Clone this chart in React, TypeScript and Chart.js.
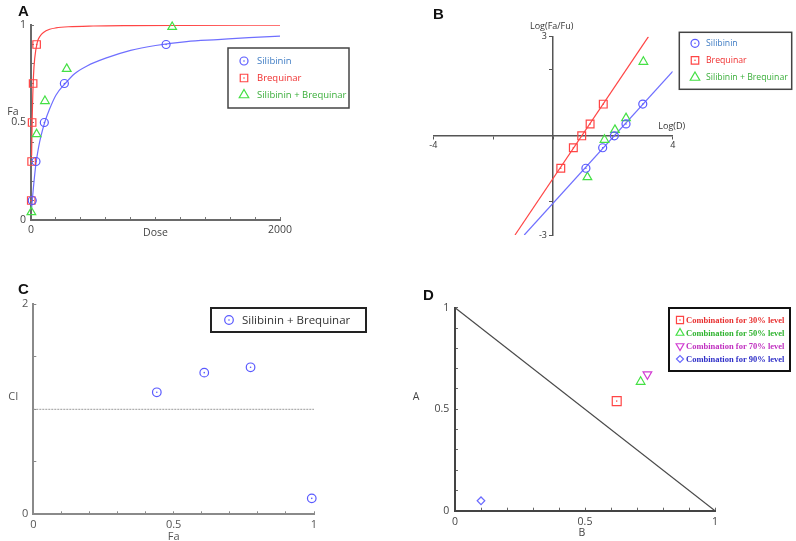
import React, { useEffect, useRef } from 'react';
import { Chart, registerables } from 'chart.js';
import { drawPoint } from 'chart.js/helpers';

Chart.register(...registerables);

// ---------- Panel A: dose-effect curves ----------
const silibininDoseA = [10, 40, 107, 268, 1085];
const silibininFaA = [0.1, 0.3, 0.5, 0.7, 0.9];
const brequinarDoseA = [2, 5, 9, 17, 45];
const brequinarFaA = [0.1, 0.3, 0.5, 0.7, 0.9];
const comboDoseA = [3, 45, 112, 287, 1134];
const comboFaA = [0.04, 0.44, 0.61, 0.775, 0.99];
const silibininCurveDose = [5, 10, 20, 40, 60, 80, 110, 150, 200, 275, 350, 450, 600, 800, 1000, 1250, 1500, 1750, 2000];
const silibininCurveFa = [0.06, 0.1, 0.17, 0.29, 0.37, 0.43, 0.5, 0.57, 0.64, 0.7, 0.75, 0.79, 0.83, 0.87, 0.895, 0.915, 0.925, 0.935, 0.943];
const brequinarCurveDose = [5, 10, 20, 30, 50, 75, 100, 150, 200, 300, 500, 800, 1200, 2000];
const brequinarCurveFa = [0.33, 0.53, 0.74, 0.83, 0.91, 0.945, 0.962, 0.978, 0.985, 0.991, 0.995, 0.997, 0.998, 0.999];
const aXLabels = [0, 2000];
const aYLabels = [0, 0.5, 1];

// ---------- Panel B: median-effect plot ----------
const silibininLogD = [1.1, 1.66, 2.05, 2.44, 3.0];
const silibininLogFaFu = [-0.98, -0.36, 0, 0.36, 0.96];
const brequinarLogD = [0.26, 0.68, 0.96, 1.24, 1.68];
const brequinarLogFaFu = [-0.98, -0.36, 0, 0.36, 0.96];
const comboLogD = [1.15, 1.72, 2.07, 2.44, 3.02];
const comboLogFaFu = [-1.25, -0.12, 0.18, 0.535, 2.24];
const silibininLineLogD = [-0.96, 4];
const silibininLineY = [-3, 1.95];
const brequinarLineLogD = [-1.27, 3.19];
const brequinarLineY = [-3, 3];
const bTicksX = [-4, -2, 0, 2, 4];
const bTicksY = [-3, -2, 0, 2, 3];
const bXLabels = [-4, 4];
const bYLabels = [-3, 3];

// ---------- Panel C: combination index ----------
const faC = [0.44, 0.609, 0.774, 0.992];
const ciC = [1.162, 1.349, 1.4, 0.152];
const ciRefFa = [0, 1];
const ciRefValue = [1, 1];
const cXLabels = [0, 0.5, 1];
const cYLabels = [0, 2];

// ---------- Panel D: isobologram ----------
const isoLabels = ['Combination for 30% level', 'Combination for 50% level', 'Combination for 70% level', 'Combination for 90% level'];
const isoB = [0.622, 0.714, 0.74, 0.1];
const isoA = [0.54, 0.635, 0.672, 0.049];
const additivityB = [0, 1];
const additivityA = [1, 0];
const dLabels = [0, 0.5, 1];

const SANS = '"Open Sans", "DejaVu Sans", sans-serif';
const SERIF = '"Liberation Serif", "Times New Roman", serif';
const BLUE = '#5a5aff';
const BLUE_LINE = '#6f6fff';
const RED = '#ff4545';
const GREEN = '#44e044';
const MAGENTA = '#d23cd2';

const pts = (xs: number[], ys: number[]) => xs.map((x, i) => ({ x, y: ys[i] }));
const near = (a: number, b: number) => Math.abs(a - b) < 1e-6;
const labelAt = (list: number[], suffix = '') => (v: any) => {
  const n = Number(v);
  return list.some((l) => near(n, l)) ? String(+n.toFixed(2)) + suffix : '';
};

const boxLegendPlugin = {
  id: 'boxLegend',
  afterDraw(chart: any, _args: any, o: any) {
    if (!o || !o.items) return;
    const ctx = chart.ctx;
    ctx.save();
    ctx.fillStyle = '#ffffff';
    ctx.fillRect(o.left, o.top, o.width, o.height);
    ctx.lineWidth = o.borderWidth;
    ctx.strokeStyle = o.borderColor;
    ctx.strokeRect(o.left, o.top, o.width, o.height);
    for (let i = 0; i < o.items.length; i++) {
      const it = o.items[i];
      const y = o.rows[i];
      ctx.strokeStyle = it.color;
      ctx.fillStyle = 'rgba(0,0,0,0)';
      ctx.lineWidth = 1.2;
      drawPoint(ctx, { pointStyle: it.style, radius: it.radius, rotation: it.rotation || 0, borderWidth: 1.2 } as any, o.markerX, y);
      if (it.dot) {
        ctx.beginPath();
        ctx.fillStyle = it.color;
        ctx.arc(o.markerX, y, 0.8, 0, Math.PI * 2);
        ctx.fill();
      }
      ctx.font = o.font;
      ctx.fillStyle = it.textColor;
      ctx.textAlign = 'left';
      ctx.textBaseline = 'middle';
      ctx.fillText(it.text, o.textX, y + 0.5);
    }
    ctx.restore();
  },
};

const axisTitlesPlugin = {
  id: 'axisTitles',
  afterDraw(chart: any, _args: any, o: any) {
    if (!o || !o.items) return;
    const a = chart.chartArea;
    const ctx = chart.ctx;
    ctx.save();
    for (let i = 0; i < o.items.length; i++) {
      const it = o.items[i];
      const bx = it.xAt === 'left' ? a.left : it.xAt === 'right' ? a.right : (a.left + a.right) / 2;
      const by = it.yAt === 'top' ? a.top : it.yAt === 'bottom' ? a.bottom : (a.top + a.bottom) / 2;
      ctx.font = it.font;
      ctx.fillStyle = it.color;
      ctx.textAlign = 'center';
      ctx.textBaseline = 'middle';
      ctx.fillText(it.text, bx + it.dx, by + it.dy);
    }
    ctx.restore();
  },
};

const centerDotPlugin = {
  id: 'centerDot',
  afterDatasetsDraw(chart: any) {
    const ctx = chart.ctx;
    chart.data.datasets.forEach((ds: any, i: number) => {
      if (!ds.centerDot) return;
      const meta = chart.getDatasetMeta(i);
      ctx.save();
      ctx.fillStyle = ds.borderColor;
      meta.data.forEach((el: any) => {
        ctx.beginPath();
        ctx.arc(el.x, el.y, 0.8, 0, Math.PI * 2);
        ctx.fill();
      });
      ctx.restore();
    });
  },
};

const PLUGINS = [boxLegendPlugin, axisTitlesPlugin, centerDotPlugin];

const marker = (label: string, data: any[], style: string, radius: number, color: string, extra: any = {}) => ({
  type: 'scatter',
  label,
  data,
  pointStyle: style,
  pointRadius: radius,
  borderColor: color,
  pointBorderColor: color,
  backgroundColor: 'rgba(0,0,0,0)',
  pointBackgroundColor: 'rgba(0,0,0,0)',
  borderWidth: 1.2,
  pointBorderWidth: 1.2,
  clip: false,
  ...extra,
});

const lineDs = (data: any[], color: string, width: number, extra: any = {}) => ({
  type: 'line',
  data,
  borderColor: color,
  borderWidth: width,
  pointRadius: 0,
  fill: false,
  tension: 0,
  ...extra,
});

const inwardAxis = (o: any) => ({
  type: 'linear',
  min: o.min,
  max: o.max,
  afterFit: o.afterFit,
  grid: { drawOnChartArea: false, drawTicks: true, tickLength: -3, color: o.tickColor, lineWidth: 1 },
  border: { display: true, color: o.axisColor, width: o.axisWidth },
  ticks: {
    stepSize: o.step,
    autoSkip: false,
    maxRotation: 0,
    padding: o.padding,
    font: { family: SANS, size: o.fontSize },
    color: o.labelColor,
    callback: labelAt(o.labels),
  },
});

const makeA = () => ({
  type: 'scatter',
  data: {
    datasets: [
      marker('Silibinin', pts(silibininDoseA, silibininFaA), 'circle', 4, BLUE, { centerDot: true }),
      marker('Brequinar', pts(brequinarDoseA, brequinarFaA), 'rect', 5.3, RED, { centerDot: true }),
      marker('Silibinin + Brequinar', pts(comboDoseA, comboFaA), 'triangle', 5, GREEN),
      lineDs(pts(silibininCurveDose, silibininCurveFa), BLUE_LINE, 1.2, { cubicInterpolationMode: 'monotone' }),
      lineDs(pts(brequinarCurveDose, brequinarCurveFa), RED, 1.2, { cubicInterpolationMode: 'monotone' }),
    ],
  },
  options: {
    responsive: false,
    animation: false,
    devicePixelRatio: 1,
    layout: { padding: { left: 0, top: 25, right: 118, bottom: 12 } },
    plugins: {
      legend: { display: false },
      tooltip: { enabled: false },
      boxLegend: {
        left: 228, top: 48, width: 121, height: 60, borderWidth: 1.5, borderColor: '#444',
        markerX: 244, textX: 257, rows: [61, 78, 95], font: `9.5px ${SANS}`,
        items: [
          { text: 'Silibinin', color: BLUE, textColor: '#3f7cc4', style: 'circle', radius: 4, dot: true },
          { text: 'Brequinar', color: RED, textColor: '#f02e2e', style: 'rect', radius: 5.3, dot: true },
          { text: 'Silibinin + Brequinar', color: GREEN, textColor: '#3aae3a', style: 'triangle', radius: 5.5 },
        ],
      },
      axisTitles: {
        items: [
          { text: 'Fa', xAt: 'left', yAt: 'middle', dx: -18, dy: -10.5, font: `10.5px ${SANS}`, color: '#444' },
          { text: 'Dose', xAt: 'center', yAt: 'bottom', dx: 0, dy: 13, font: `10.5px ${SANS}`, color: '#444' },
        ],
      },
    },
    scales: {
      x: inwardAxis({ min: 0, max: 2000, step: 200, labels: aXLabels, padding: 6.7, fontSize: 10.5, labelColor: '#444', tickColor: '#777', axisColor: '#6a6a6a', axisWidth: 2, afterFit: (s: any) => { s.height = 20; } }),
      y: inwardAxis({ min: 0, max: 1, step: 0.1, labels: aYLabels, padding: 8, fontSize: 10.5, labelColor: '#444', tickColor: '#777', axisColor: '#6a6a6a', axisWidth: 2, afterFit: (s: any) => { s.width = 31; } }),
    },
  },
  plugins: PLUGINS,
});

const makeB = () => ({
  type: 'scatter',
  data: {
    datasets: [
      marker('Silibinin', pts(silibininLogD, silibininLogFaFu), 'circle', 4, BLUE, { centerDot: true }),
      marker('Brequinar', pts(brequinarLogD, brequinarLogFaFu), 'rect', 5.5, RED, { centerDot: true }),
      marker('Silibinin + Brequinar', pts(comboLogD, comboLogFaFu), 'triangle', 5, GREEN),
      lineDs(pts(silibininLineLogD, silibininLineY), BLUE_LINE, 1.2),
      lineDs(pts(brequinarLineLogD, brequinarLineY), RED, 1.2),
    ],
  },
  options: {
    responsive: false,
    animation: false,
    devicePixelRatio: 1,
    layout: { padding: { left: 33.3, top: 36.7, right: 123.3, bottom: 15 } },
    plugins: {
      legend: { display: false },
      tooltip: { enabled: false },
      boxLegend: {
        left: 279.3, top: 32.3, width: 112.4, height: 57, borderWidth: 1.5, borderColor: '#444',
        markerX: 295, textX: 306, rows: [43.3, 60.3, 77.5], font: `8.7px ${SANS}`,
        items: [
          { text: 'Silibinin', color: BLUE, textColor: '#3f7cc4', style: 'circle', radius: 4, dot: true },
          { text: 'Brequinar', color: RED, textColor: '#f02e2e', style: 'rect', radius: 5.3, dot: true },
          { text: 'Silibinin + Brequinar', color: GREEN, textColor: '#3aae3a', style: 'triangle', radius: 5.5 },
        ],
      },
      axisTitles: {
        items: [
          { text: 'Log(Fa/Fu)', xAt: 'center', yAt: 'top', dx: -1.3, dy: -10, font: `9px ${SANS}`, color: '#333' },
          { text: 'Log(D)', xAt: 'right', yAt: 'middle', dx: -1, dy: -9, font: `9px ${SANS}`, color: '#333' },
        ],
      },
    },
    scales: {
      x: {
        type: 'linear', min: -4, max: 4, position: { y: 0 },
        afterBuildTicks: (s: any) => { s.ticks = bTicksX.map((v) => ({ value: v })); },
        grid: { drawOnChartArea: false, drawTicks: true, tickLength: 3, color: '#555', lineWidth: 1 },
        border: { display: true, color: '#555', width: 1.5 },
        ticks: { autoSkip: false, maxRotation: 0, padding: 1.6, font: { family: SANS, size: 9 }, color: '#333', callback: labelAt(bXLabels) },
      },
      y: {
        type: 'linear', min: -3, max: 3, position: { x: 0 },
        afterBuildTicks: (s: any) => { s.ticks = bTicksY.map((v) => ({ value: v })); },
        grid: { drawOnChartArea: false, drawTicks: true, tickLength: 3, color: '#555', lineWidth: 1 },
        border: { display: true, color: '#555', width: 1.5 },
        ticks: { autoSkip: false, padding: 0, font: { family: SANS, size: 9 }, color: '#333', callback: labelAt(bYLabels, '\u2002\u2009') },
      },
    },
  },
  plugins: PLUGINS,
});

const makeC = () => ({
  type: 'scatter',
  data: {
    datasets: [
      marker('Silibinin + Brequinar', pts(faC, ciC), 'circle', 4.3, BLUE, { centerDot: true }),
      lineDs(pts(ciRefFa, ciRefValue), '#9a9a9a', 1, { borderDash: [2, 1] }),
    ],
  },
  options: {
    responsive: false,
    animation: false,
    devicePixelRatio: 1,
    layout: { padding: { left: 0, top: 39.3, right: 84, bottom: 6.7 } },
    plugins: {
      legend: { display: false },
      tooltip: { enabled: false },
      boxLegend: {
        left: 211, top: 43, width: 155, height: 24, borderWidth: 2, borderColor: '#222',
        markerX: 229, textX: 242, rows: [55], font: `11.5px ${SANS}`,
        items: [{ text: 'Silibinin + Brequinar', color: BLUE, textColor: '#333', style: 'circle', radius: 4.3, dot: true }],
      },
      axisTitles: {
        items: [
          { text: 'CI', xAt: 'left', yAt: 'middle', dx: -20, dy: -12.3, font: `11px ${SANS}`, color: '#555' },
          { text: 'Fa', xAt: 'center', yAt: 'bottom', dx: 0, dy: 22.4, font: `11px ${SANS}`, color: '#555' },
        ],
      },
    },
    scales: {
      x: inwardAxis({ min: 0, max: 1, step: 0.1, labels: cXLabels, padding: 6.8, fontSize: 11, labelColor: '#555', tickColor: '#888', axisColor: '#8a8a8a', axisWidth: 2, afterFit: (s: any) => { s.height = 20; } }),
      y: inwardAxis({ min: 0, max: 2, step: 0.5, labels: cYLabels, padding: 8, fontSize: 11, labelColor: '#555', tickColor: '#888', axisColor: '#8a8a8a', axisWidth: 2, afterFit: (s: any) => { s.width = 33.3; } }),
    },
  },
  plugins: PLUGINS,
});

const isoStyles = [
  { style: 'rect', radius: 6.3, color: RED, rotation: 0, dot: true },
  { style: 'triangle', radius: 5, color: GREEN, rotation: 0, dot: false },
  { style: 'triangle', radius: 5, color: MAGENTA, rotation: 180, dot: false },
  { style: 'rectRot', radius: 3.8, color: '#6a6aff', rotation: 0, dot: false },
];
const isoTextColors = ['#e83030', '#2fb32f', '#c030c0', '#2f2fc8'];

const makeD = () => ({
  type: 'scatter',
  data: {
    datasets: [
      ...isoLabels.map((lab, i) =>
        marker(lab, [{ x: isoB[i], y: isoA[i] }], isoStyles[i].style, isoStyles[i].radius, isoStyles[i].color, {
          pointRotation: isoStyles[i].rotation,
          centerDot: isoStyles[i].dot,
        })
      ),
      lineDs(pts(additivityB, additivityA), '#4a4a4a', 1.3),
    ],
  },
  options: {
    responsive: false,
    animation: false,
    devicePixelRatio: 1,
    layout: { padding: { left: 20, top: 42.7, right: 81, bottom: 10.3 } },
    plugins: {
      legend: { display: false },
      tooltip: { enabled: false },
      boxLegend: {
        left: 271, top: 43, width: 121, height: 63, borderWidth: 2, borderColor: '#111',
        markerX: 282, textX: 288, rows: [55, 68, 81, 94], font: `bold 8.5px ${SERIF}`,
        items: isoLabels.map((lab, i) => ({
          text: lab, color: isoStyles[i].color, textColor: isoTextColors[i], style: isoStyles[i].style,
          radius: isoStyles[i].style === 'rect' ? 5 : isoStyles[i].style === 'rectRot' ? 3.5 : 4.5,
          rotation: isoStyles[i].rotation, dot: isoStyles[i].dot,
        })),
      },
      axisTitles: {
        items: [
          { text: 'A', xAt: 'left', yAt: 'middle', dx: -39, dy: -12, font: `10.5px ${SANS}`, color: '#444' },
          { text: 'B', xAt: 'center', yAt: 'bottom', dx: -3, dy: 22.6, font: `10.5px ${SANS}`, color: '#444' },
        ],
      },
    },
    scales: {
      x: inwardAxis({ min: 0, max: 1, step: 0.1, labels: dLabels, padding: 7.6, fontSize: 10.5, labelColor: '#444', tickColor: '#666', axisColor: '#444', axisWidth: 2, afterFit: (s: any) => { s.height = 20; } }),
      y: inwardAxis({ min: 0, max: 1, step: 0.1, labels: dLabels, padding: 8.7, fontSize: 10.5, labelColor: '#444', tickColor: '#666', axisColor: '#444', axisWidth: 2, afterFit: (s: any) => { s.width = 37; } }),
    },
  },
  plugins: PLUGINS,
});

function ChartBox({ left, top, width, height, make }: any) {
  const ref = useRef<HTMLCanvasElement>(null);
  useEffect(() => {
    const chart = new Chart(ref.current as HTMLCanvasElement, make() as any);
    return () => chart.destroy();
  }, [make]);
  return (
    <canvas
      ref={ref}
      width={width}
      height={height}
      style={{ position: 'absolute', left, top, width, height }}
    />
  );
}

const letter = (left: number, top: number): React.CSSProperties => ({
  position: 'absolute',
  left,
  top,
  font: 'bold 15px "Liberation Sans", Arial, sans-serif',
  lineHeight: '15px',
  color: '#111',
});

export default function App() {
  return (
    <div style={{ position: 'absolute', left: 0, top: 0, width: 796, height: 541, background: '#fff', overflow: 'hidden' }}>
      <ChartBox left={0} top={0} width={398} height={252} make={makeA} />
      <ChartBox left={400} top={0} width={396} height={250} make={makeB} />
      <ChartBox left={0} top={265} width={398} height={276} make={makeC} />
      <ChartBox left={398} top={265} width={398} height={276} make={makeD} />
      <div style={letter(18, 3)}>A</div>
      <div style={letter(433, 6)}>B</div>
      <div style={letter(18, 281)}>C</div>
      <div style={letter(423, 287)}>D</div>
    </div>
  );
}
